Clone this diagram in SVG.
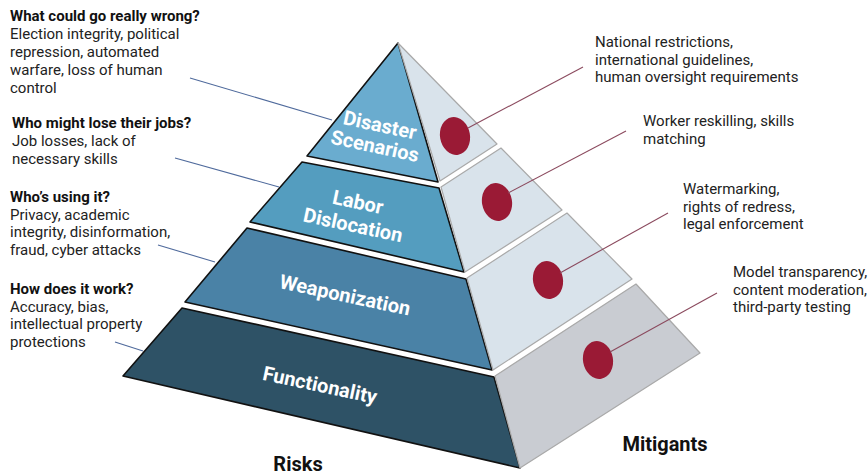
<svg xmlns="http://www.w3.org/2000/svg" width="868" height="475" viewBox="0 0 868 475">
<style>
.bg{fill:#ffffff}
.lt{stroke:#111;stroke-width:1.6;stroke-linejoin:round}
.rt{stroke:#a9a9a9;stroke-width:1.2;stroke-linejoin:round}
.rl{fill:#d9e3eb}
.rg{fill:#c9ccd2}
.dot{fill:#9a1a35}
.tl{font-family:"Roboto","Liberation Sans",sans-serif;font-size:20px;font-weight:700;fill:#ffffff;text-anchor:middle}
.q{font-family:"Roboto","Liberation Sans",sans-serif;font-size:15px;fill:#222}
.qb{font-weight:700;fill:#111}
.hd{font-family:"Roboto","Liberation Sans",sans-serif;font-size:20px;font-weight:700;fill:#111;text-anchor:middle}
.bl{stroke:#4f6a9c;stroke-width:1.1;fill:none}
.rd{stroke:#8b4a5e;stroke-width:1.1;fill:none}
</style>
<rect class="bg" x="0" y="0" width="868" height="475"/>

<g id="tier-disaster">
  <polygon class="lt" fill="#6aaccf" points="398,43 438,182 307,156"/>
  <text class="tl" transform="rotate(12 380 125)" x="380" y="132">Disaster</text>
  <text class="tl" transform="rotate(12 375 146)" x="375" y="153">Scenarios</text>
</g>
<g id="tier-labor">
  <polygon class="lt" fill="#549dbf" points="302,162 439,188 464,272 250,222"/>
  <text class="tl" transform="rotate(12 358 202)" x="358" y="209">Labor</text>
  <text class="tl" transform="rotate(12 353 225)" x="353" y="232">Dislocation</text>
</g>
<g id="tier-weaponization">
  <polygon class="lt" fill="#4a82a6" points="247,228 466,279 492,370 185,302"/>
  <text class="tl" transform="rotate(12 345 295)" x="345" y="302">Weaponization</text>
</g>
<g id="tier-functionality">
  <polygon class="lt" fill="#2e5266" points="182,308 494,377 520,468 123,376"/>
  <text class="tl" transform="rotate(12 320 385)" x="320" y="392">Functionality</text>
</g>

<g id="mitigant-1">
  <polygon class="rt rl" points="398,43 497,144 440,181"/>
  <ellipse class="dot" cx="455" cy="136" rx="15" ry="19" transform="rotate(-10 455 136)"/>
</g>
<g id="mitigant-2">
  <polygon class="rt rl" points="441,187 501,148 562,210 465,272"/>
  <ellipse class="dot" cx="497" cy="202" rx="15" ry="19" transform="rotate(-10 497 202)"/>
</g>
<g id="mitigant-3">
  <polygon class="rt rl" points="467,278 567,213 632,279 493,370"/>
  <ellipse class="dot" cx="548" cy="280" rx="15" ry="19" transform="rotate(-10 548 280)"/>
</g>
<g id="mitigant-4">
  <polygon class="rt rg" points="495,376 636,284 700,353 520,468"/>
  <ellipse class="dot" cx="598" cy="360" rx="15" ry="19" transform="rotate(-10 598 360)"/>
</g>

<g id="connectors">
  <line class="bl" x1="190" y1="78" x2="332" y2="120"/>
  <line class="bl" x1="175" y1="158" x2="279" y2="187"/>
  <line class="bl" x1="158" y1="245" x2="215" y2="262"/>
  <line class="bl" x1="115" y1="342" x2="143" y2="351"/>
  <line class="rd" x1="468" y1="128" x2="583" y2="67"/>
  <line class="rd" x1="508" y1="193" x2="626" y2="131"/>
  <line class="rd" x1="560" y1="273" x2="668" y2="213"/>
  <line class="rd" x1="610" y1="352" x2="717" y2="293"/>
</g>

<g id="risk-text-1">
  <text class="q"><tspan class="qb" x="10" y="21">What could go really wrong?</tspan><tspan x="10" y="39">Election integrity, political</tspan><tspan x="10" y="57">repression, automated</tspan><tspan x="10" y="75">warfare, loss of human</tspan><tspan x="10" y="93">control</tspan></text>
</g>
<g id="risk-text-2">
  <text class="q"><tspan class="qb" x="12" y="128">Who might lose their jobs?</tspan><tspan x="12" y="146">Job losses, lack of</tspan><tspan x="12" y="164">necessary skills</tspan></text>
</g>
<g id="risk-text-3">
  <text class="q"><tspan class="qb" x="10" y="202">Who’s using it?</tspan><tspan x="10" y="219.5">Privacy, academic</tspan><tspan x="10" y="237">integrity, disinformation,</tspan><tspan x="10" y="254.5">fraud, cyber attacks</tspan></text>
</g>
<g id="risk-text-4">
  <text class="q"><tspan class="qb" x="10" y="294">How does it work?</tspan><tspan x="10" y="311.5">Accuracy, bias,</tspan><tspan x="10" y="329">intellectual property</tspan><tspan x="10" y="346.5">protections</tspan></text>
</g>

<g id="mitigant-text-1">
  <text class="q"><tspan x="595" y="47">National restrictions,</tspan><tspan x="595" y="64.5">international guidelines,</tspan><tspan x="595" y="82">human oversight requirements</tspan></text>
</g>
<g id="mitigant-text-2">
  <text class="q"><tspan x="643" y="126">Worker reskilling, skills</tspan><tspan x="643" y="143.5">matching</tspan></text>
</g>
<g id="mitigant-text-3">
  <text class="q"><tspan x="683" y="194">Watermarking,</tspan><tspan x="683" y="211.5">rights of redress,</tspan><tspan x="683" y="229">legal enforcement</tspan></text>
</g>
<g id="mitigant-text-4">
  <text class="q"><tspan x="733" y="277">Model transparency,</tspan><tspan x="733" y="294.5">content moderation,</tspan><tspan x="733" y="312">third-party testing</tspan></text>
</g>

<g id="label-risks"><text class="hd" x="298" y="471">Risks</text></g>
<g id="label-mitigants"><text class="hd" x="665" y="451">Mitigants</text></g>
</svg>
